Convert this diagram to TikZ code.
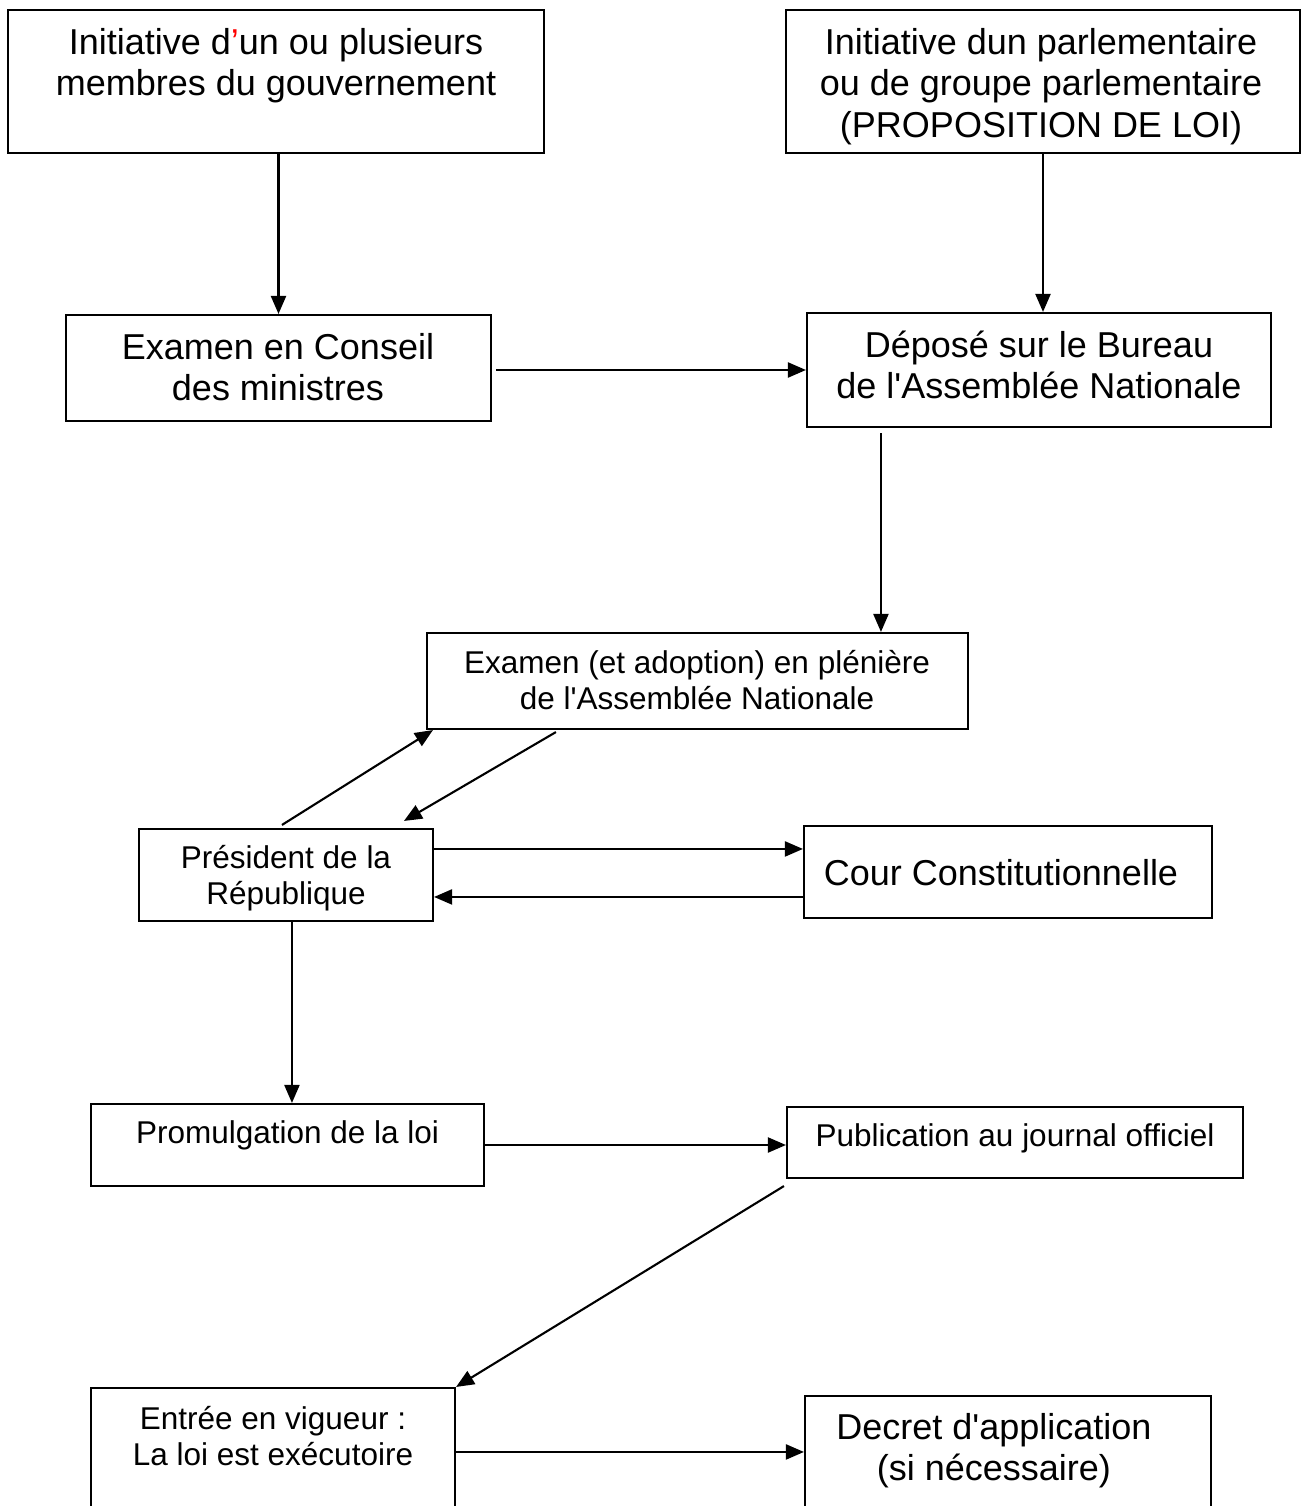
\documentclass[tikz,border=0pt]{standalone}
\usepackage{fontspec}
\newfontfamily\arialx{Liberation Sans}
\usetikzlibrary{arrows.meta,calc}
\newcommand\strutA{\rule{0pt}{32pt}}
\newcommand\strutB{\rule{0pt}{28pt}}
\begin{document}
\begin{tikzpicture}[x=1pt,y=-1pt,
  box/.style={draw=black, line width=2.1pt, rectangle, inner sep=0pt},
  bigtxt/.style={anchor=north, inner sep=0pt, align=center, font=\arialx\fontsize{36}{41.5}\selectfont},
  smalltxt/.style={anchor=north, inner sep=0pt, align=center, font=\arialx\fontsize{31.5}{36}\selectfont},
  arr/.style={line width=2.1pt, -{Triangle[length=18pt,width=15pt]}}]
\path[use as bounding box] (0,0) rectangle (1302,1506);
\clip (0,0) rectangle (1302,1506);
\fill[white] (0,0) rectangle (1302,1506);
% boxes
\node[box, minimum width=536pt, minimum height=143pt] (b1) at (276,81.5) {};
\node[box, minimum width=514pt, minimum height=143pt] (b2) at (1043,81.5) {};
\node[box, minimum width=425pt, minimum height=106pt] (b3) at (278.5,368) {};
\node[box, minimum width=464pt, minimum height=114pt] (b4) at (1039,370) {};
\node[box, minimum width=541pt, minimum height=96pt] (b5) at (697.5,681) {};
\node[box, minimum width=294pt, minimum height=92pt] (b6) at (286,875) {};
\node[box, minimum width=408pt, minimum height=92pt] (b7) at (1008,872) {};
\node[box, minimum width=393pt, minimum height=82pt] (b8) at (287.5,1145) {};
\node[box, minimum width=456pt, minimum height=71pt] (b9) at (1015,1142.5) {};
\node[box, minimum width=364pt, minimum height=172pt] (b10) at (273,1474) {};
\node[box, minimum width=406pt, minimum height=164pt] (b11) at (1008,1478) {};
% texts
\node[bigtxt] (t1) at (276,22) {\strutA Initiative d{\color{red}’}un ou plusieurs\\membres du gouvernement};
\node[bigtxt] (t2) at (1041,22) {\strutA Initiative dun parlementaire\\ou de groupe parlementaire\\(PROPOSITION DE LOI)};
\node[bigtxt] (t3) at (278,327) {\strutA Examen en Conseil\\des ministres};
\node[bigtxt] (t4) at (1039,325) {\strutA Déposé sur le Bureau\\de l'Assemblée Nationale};
\node[smalltxt] (t5) at (697,645) {\strutB Examen (et adoption) en plénière\\de l'Assemblée Nationale};
\node[smalltxt] (t6) at (286,840) {\strutB Président de la\\République};
\node[bigtxt] (t7) at (1001,853) {\strutA Cour Constitutionnelle};
\node[smalltxt] (t8) at (287.5,1115) {\strutB Promulgation de la loi};
\node[smalltxt] (t9) at (1015,1118) {\strutB Publication au journal officiel};
\node[smalltxt] (t10) at (273,1401) {\strutB Entrée en vigueur :\\La loi est exécutoire};
\node[bigtxt] (t11) at (994,1407) {\strutA Decret d'application\\(si nécessaire)};
% connectors
\draw[arr] (b3.north |- b1.south) -- (b3.north);
\draw[arr] (b2.south) -- (b2.south |- b4.north);
\coordinate (p0) at ($(b3.east)+(4,2)$);
\draw[arr] (p0) -- (p0 -| b4.west);
\coordinate (p1) at ($(b4.south west)+(75,5)$);
\draw[arr] (p1) -- (p1 |- b5.north);
\coordinate (q1) at ($(b6.north west)+(144,-3)$);
\coordinate (q2) at ($(b5.south west)+(7,0)$);
\draw[arr] (q1) -- (q2);
\coordinate (q3) at ($(b5.south west)+(130,2)$);
\coordinate (q4) at ($(b6.north west)+(266,-7)$);
\draw[arr] (q3) -- (q4);
\coordinate (p2) at ($(b6.north east)+(0,21)$);
\draw[arr] (p2) -- (p2 -| b7.west);
\coordinate (p3) at ($(b7.north west)+(0,72)$);
\draw[arr] (p3) -- (p3 -| b6.east);
\coordinate (p4) at ($(b6.south west)+(154,0)$);
\draw[arr] (p4) -- (p4 |- b8.north);
\draw[arr] (b8.east) -- (b8.east -| b9.west);
\coordinate (q5) at ($(b9.south west)+(-2,7)$);
\draw[arr] (q5) -- (b10.north east);
\coordinate (p5) at ($(b10.north east)+(0,65)$);
\draw[arr] (p5) -- (p5 -| b11.west);
\end{tikzpicture}
\end{document}
